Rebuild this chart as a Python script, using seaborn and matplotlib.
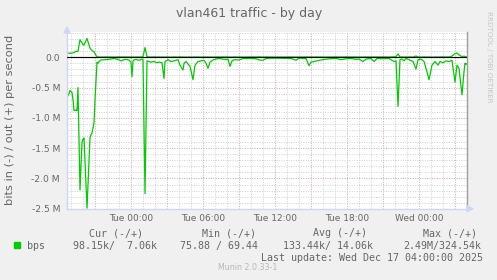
import matplotlib
matplotlib.use("Agg")
import matplotlib.pyplot as plt
import numpy as np
import pandas as pd
import seaborn as sns
from matplotlib.ticker import MultipleLocator, FixedLocator, FuncFormatter
from matplotlib.patches import Polygon, Rectangle

# ---------------- data (minutes relative to Tue 00:00) ----------------
minutes = [-320, -310, -305, -295, -290, -285, -275, -270, -265, -255, -245, -240, -235, -220,
           -205, -200, -195, -185, -180, -170, -165, -160, -150, -130, -110, -85, -65, -50, -40,
           -25, -10, 0, 5, 10, 15, 25, 40, 55, 60, 70, 80, 90, 100, 115, 130, 140, 155, 165, 170,
           185, 200, 215, 235, 245, 260, 265, 275, 285, 295, 310, 320, 335, 350, 365, 375, 385,
           395, 410, 425, 440, 460, 475, 485, 495, 505, 515, 540, 560, 600, 625, 640, 660, 675,
           700, 750, 800, 825, 840, 875, 890, 900, 915, 940, 960, 990, 1025, 1050, 1075, 1100,
           1125, 1140, 1160, 1175, 1200, 1215, 1230, 1260, 1290, 1315, 1325, 1335, 1345, 1355,
           1365, 1375, 1390, 1410, 1425, 1435, 1450, 1465, 1480, 1490, 1505, 1520, 1535, 1545,
           1560, 1575, 1590, 1605, 1620, 1630, 1640, 1655, 1665, 1670, 1675, 1680]

in_kbps = [660, 600, 550, 580, 700, 880, 870, 880, 500, 2190, 1400, 1350, 1330, 2490,
           1330, 1280, 1250, 1080, 700, 80, 100, 70, 45, 40, 35, 20, 35, 60, 45,
           35, 45, 80, 320, 60, 45, 35, 50, 30, 40, 2250, 60, 70, 80, 70, 90, 80, 90, 350, 70,
           40, 70, 60, 40, 130, 210, 100, 70, 110, 150, 370, 130, 70, 60, 50, 100, 180,
           80, 45, 30, 20, 30, 40, 30, 150, 60, 40, 45, 20, 20, 25, 45, 50, 20,
           15, 15, 20, 50, 15, 20, 140, 80, 70, 50, 40, 25, 20, 40, 25, 20,
           35, 30, 70, 30, 20, 70, 20, 25, 20, 70, 60, 810, 40, 30,
           60, 20, 40, 70, 195, 40, 30, 70, 240, 370, 130, 70, 130, 70,
           90, 60, 70, 50, 410, 130, 180, 620, 240, 100, 120, 98]

out_kbps = [70, 68, 65, 70, 75, 80, 100, 95, 100, 290, 240, 210, 200, 310,
            150, 130, 110, 90, 60, 5, 6, 5, 4, 6, 5, 4, 6, 5, 7,
            5, 6, 5, 4, 6, 5, 4, 6, 5, 10, 160, 10, 6, 5, 7, 5, 6, 4, 5, 6,
            5, 4, 6, 5, 7, 5, 6, 4, 5, 6, 5, 7, 5, 4, 6, 5, 6,
            5, 4, 6, 5, 7, 5, 6, 4, 5, 6, 5, 4, 6, 5, 7, 5, 6,
            4, 5, 6, 5, 4, 6, 5, 7, 5, 6, 4, 5, 6, 5, 7, 5,
            6, 4, 5, 6, 5, 7, 5, 6, 4, 8, 10, 55, 5, 6,
            5, 4, 6, 5, 20, 6, 5, 7, 5, 6, 4, 5, 6, 5,
            7, 5, 6, 20, 60, 70, 40, 10, 20, 10, 8, 7]

x_tick_minutes = [0, 360, 720, 1080, 1440]
x_tick_labels = ["Tue 00:00", "Tue 06:00", "Tue 12:00", "Tue 18:00", "Wed 00:00"]
y_ticks = [0.0, -0.5, -1.0, -1.5, -2.0, -2.5]
y_tick_labels = ["0.0", "-0.5 M", "-1.0 M", "-1.5 M", "-2.0 M", "-2.5 M"]

title = "vlan461 traffic - by day"
y_label = "bits in (-) / out (+) per second"
series_name = "bps"
legend_headers = ["Cur (-/+)", "Min (-/+)", "Avg (-/+)", "Max (-/+)"]
legend_values = ["98.15k/  7.06k", "75.88 / 69.44", "133.44k/ 14.06k", "2.49M/324.54k"]
last_update = "Last update: Wed Dec 17 04:00:00 2025"
munin_version = "Munin 2.0.33-1"
rrd_credit = "RRDTOOL / TOBI OETIKER"

# ---------------- build long-form table ----------------
df = pd.concat([
    pd.DataFrame({"minute": minutes, "value": [-v / 1000.0 for v in in_kbps], "dir": "in"}),
    pd.DataFrame({"minute": minutes, "value": [v / 1000.0 for v in out_kbps], "dir": "out"}),
], ignore_index=True)

sns.set_style("white")
plt.rcParams["font.family"] = ["DejaVu Sans"]

W, H = 497, 280
BG = "#F0F0F0"
FONT = "#666666"
GREEN = "#00CC00"
AXIS = "#CFD6F8"

fig = plt.figure(figsize=(W / 100, H / 100), dpi=100, facecolor=BG)

L, R, T, B = 67, 467, 32, 208.8
ax = fig.add_axes([L / W, 1 - B / H, (R - L) / W, (B - T) / H])
ax.set_facecolor("white")

sns.lineplot(data=df, x="minute", y="value", units="dir", estimator=None, sort=False,
             color=GREEN, linewidth=0.9, ax=ax, legend=False, zorder=2)
ax.axhline(0, color="black", linewidth=0.85, zorder=3)

ax.set_xlim(-320, 1680)
ax.set_ylim(-2.5, 0.417)

ax.xaxis.set_major_locator(MultipleLocator(180))
ax.xaxis.set_minor_locator(MultipleLocator(60))
lab_map = dict(zip(x_tick_minutes, x_tick_labels))
ax.xaxis.set_major_formatter(FuncFormatter(lambda v, p: lab_map.get(int(round(v)), "")))
ax.yaxis.set_major_locator(FixedLocator(y_ticks))
ax.yaxis.set_minor_locator(MultipleLocator(0.1))
ax.set_yticklabels(y_tick_labels)

ax.set_axisbelow(True)
ax.grid(which="minor", color="#d0d0d0", linestyle=(0, (1, 1.5)), linewidth=0.7)
ax.grid(which="major", color="#e0a0a0", linestyle=(0, (1, 1.5)), linewidth=0.7)

ax.tick_params(axis="both", which="both", direction="inout", length=3, width=0.7)
ax.tick_params(which="major", color="#e0a0a0")
ax.tick_params(which="minor", color="#c8c8c8")
ax.tick_params(axis="x", which="major", labelsize=6.5, labelcolor=FONT, pad=2.5)
ax.tick_params(axis="y", which="major", labelsize=6.6, labelcolor=FONT, pad=3.5)
ax.set_xlabel("")
ax.set_ylabel("")

for s in ["left", "bottom"]:
    ax.spines[s].set_color(AXIS)
    ax.spines[s].set_linewidth(1.0)
ax.spines["top"].set_visible(False)
ax.spines["right"].set_color("#a0a0a0")
ax.spines["right"].set_linewidth(1.0)

def fx(px):
    return px / W

def fy(py):
    return 1 - py / H

# axis arrows
fig.add_artist(Polygon([(fx(L - 3), fy(33)), (fx(L + 3), fy(33)), (fx(L), fy(27))],
                       closed=True, color=AXIS, transform=fig.transFigure))
fig.add_artist(Polygon([(fx(R), fy(B - 3)), (fx(R), fy(B + 3)), (fx(R + 6), fy(B))],
                       closed=True, color=AXIS, transform=fig.transFigure))

# titles
fig.text(fx(249), fy(13.5), title, ha="center", va="center", fontsize=9, color=FONT)
fig.text(fx(10.5), fy(120), y_label, ha="center", va="center", rotation=90,
         fontsize=8.2, color=FONT)
fig.text(fx(488.5), fy(56.5), rrd_credit, ha="center", va="center", rotation=270,
         fontsize=5.1, color="#c4c4c4")

# legend
mono = "DejaVu Sans Mono"
for txt, x in zip(legend_headers, [89, 202, 313, 423]):
    fig.text(fx(x), fy(233), txt, ha="left", va="center", fontsize=7.2, family=mono, color=FONT)
fig.add_artist(Rectangle((fx(14), fy(248)), 6 / W, 6 / H, color=GREEN,
                         transform=fig.transFigure))
fig.text(fx(27), fy(246), series_name, ha="left", va="center", fontsize=7.2, family=mono, color=FONT)
for txt, x in zip(legend_values, [73, 180, 283, 403]):
    fig.text(fx(x), fy(246), txt, ha="left", va="center", fontsize=7.2, family=mono, color=FONT)
fig.text(fx(483), fy(258), last_update, ha="right", va="center", fontsize=7.2,
         family=mono, color=FONT)
fig.text(fx(248), fy(268), munin_version, ha="center", va="center", fontsize=5.7,
         color="#b8b8b8")

fig.savefig("out.png", dpi=100, facecolor=BG)
